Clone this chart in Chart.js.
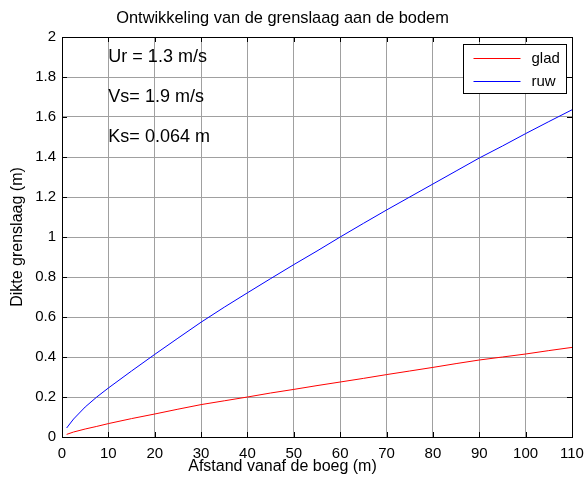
<!DOCTYPE html>
<html>
<head>
<meta charset="utf-8">
<script src="https://cdn.jsdelivr.net/npm/chart.js@4/dist/chart.umd.min.js"></script>
<style>
html,body{margin:0;padding:0;background:#fff;}
canvas{display:block;}
</style>
</head>
<body>
<canvas id="c" width="585" height="487"></canvas>
<script>
// ---- data ----
const distances      = [1, 2.5, 5, 7.5, 10, 15, 20, 25, 30, 35, 40, 45, 50, 55, 60, 65, 70, 75, 80, 85, 90, 95, 100, 105, 110];
const gladThickness  = [0.013, 0.025, 0.040, 0.053, 0.067, 0.092, 0.115, 0.139, 0.162, 0.181, 0.200, 0.220, 0.238, 0.257, 0.275, 0.293, 0.312, 0.330, 0.348, 0.367, 0.385, 0.400, 0.415, 0.432, 0.448];
const ruwThickness   = [0.045, 0.090, 0.150, 0.200, 0.245, 0.330, 0.413, 0.494, 0.574, 0.649, 0.721, 0.792, 0.862, 0.930, 1.000, 1.068, 1.135, 1.200, 1.265, 1.330, 1.395, 1.455, 1.517, 1.577, 1.636];
const seriesLabels   = ["glad", "ruw"];
const xTickValues    = [0, 10, 20, 30, 40, 50, 60, 70, 80, 90, 100, 110];
const xTickLabels    = ["0", "10", "20", "30", "40", "50", "60", "70", "80", "90", "100", "110"];
const yTickValues    = [0, 0.2, 0.4, 0.6, 0.8, 1, 1.2, 1.4, 1.6, 1.8, 2];
const yTickLabels    = ["0", "0.2", "0.4", "0.6", "0.8", "1", "1.2", "1.4", "1.6", "1.8", "2"];
const annotationText = ["Ur = 1.3 m/s", "Vs= 1.9 m/s", "Ks= 0.064 m"];
const annotationX    = 10;
const annotationY    = [1.9, 1.7, 1.5];
const titleText      = "Ontwikkeling van de grenslaag aan de bodem";
const xTitle         = "Afstand vanaf de boeg (m)";
const yTitle         = "Dikte grenslaag (m)";

const FONT = "'Liberation Sans', Arial, sans-serif";
const colors = ["#ff0000", "#0000ff"];

const boxPlugin = {
  id: 'matlabBox',
  afterDatasetsDraw(chart) {
    const {ctx, chartArea: a, scales: {x, y}} = chart;
    ctx.save();
    // titles (centred like the reference figure)
    const cx = chart.width / 2 - 10;
    ctx.fillStyle = '#000';
    ctx.textAlign = 'center';
    ctx.textBaseline = 'middle';
    ctx.font = "16.4px " + FONT;
    ctx.fillText(titleText, cx, a.top - 19);
    ctx.font = "16px " + FONT;
    ctx.fillText(xTitle, cx, a.bottom + 30);
    // annotations
    ctx.font = "18px " + FONT;
    ctx.textAlign = 'left';
    annotationText.forEach((t, i) => {
      ctx.fillText(t, x.getPixelForValue(annotationX), y.getPixelForValue(annotationY[i]));
    });
    // axes box
    ctx.strokeStyle = '#000';
    ctx.lineWidth = 1;
    ctx.strokeRect(Math.round(a.left) + 0.5, Math.round(a.top) + 0.5, Math.round(a.right - a.left), Math.round(a.bottom - a.top));
    // inward ticks
    const tl = 5;
    ctx.beginPath();
    xTickValues.forEach(v => {
      const px = Math.round(x.getPixelForValue(v)) + 0.5;
      ctx.moveTo(px, a.bottom); ctx.lineTo(px, a.bottom - tl);
      ctx.moveTo(px, a.top); ctx.lineTo(px, a.top + tl);
    });
    yTickValues.forEach(v => {
      const py = Math.round(y.getPixelForValue(v)) + 0.5;
      ctx.moveTo(a.left, py); ctx.lineTo(a.left + tl, py);
      ctx.moveTo(a.right, py); ctx.lineTo(a.right - tl, py);
    });
    ctx.stroke();
    // legend
    const bw = 103, bh = 49;
    const bx = Math.round(a.right - 109) + 0.5, by = Math.round(a.top + 7) + 0.5;
    ctx.fillStyle = '#fff';
    ctx.fillRect(bx, by, bw, bh);
    ctx.strokeStyle = '#000';
    ctx.strokeRect(bx, by, bw, bh);
    ctx.font = "15px " + FONT;
    ctx.textBaseline = 'middle';
    seriesLabels.forEach((lab, i) => {
      const ly = Math.round(by + 13 + i * 23) + 0.5;
      ctx.strokeStyle = colors[i];
      ctx.beginPath();
      ctx.moveTo(bx + 10, ly); ctx.lineTo(bx + 57, ly);
      ctx.stroke();
      ctx.fillStyle = '#000';
      ctx.fillText(lab, bx + 68, ly);
    });
    ctx.restore();
  }
};

new Chart(document.getElementById('c'), {
  type: 'line',
  data: {
    datasets: [
      { label: seriesLabels[0], data: distances.map((d, i) => ({x: d, y: gladThickness[i]})),
        borderColor: colors[0], borderWidth: 1, pointRadius: 0, tension: 0, fill: false },
      { label: seriesLabels[1], data: distances.map((d, i) => ({x: d, y: ruwThickness[i]})),
        borderColor: colors[1], borderWidth: 1, pointRadius: 0, tension: 0, fill: false }
    ]
  },
  options: {
    responsive: false,
    animation: false,
    devicePixelRatio: 1,
    layout: { padding: { left: 0, right: 13, top: 37, bottom: 0 } },
    plugins: {
      legend: { display: false },
      tooltip: { enabled: false },
      title: { display: false }
    },
    scales: {
      x: {
        type: 'linear', min: 0, max: 110,
        afterBuildTicks: s => { s.ticks = xTickValues.map(v => ({value: v})); },
        afterFit: s => { s.height = 50; s.paddingLeft = 0; s.paddingRight = 0; },
        grid: { color: '#a0a0a0', drawTicks: false },
        border: { display: true, color: '#000' },
        ticks: { color: '#000', font: { family: FONT, size: 15 }, padding: 8, maxRotation: 0, autoSkip: false,
                 callback: (v, i) => xTickLabels[i] },
        title: { display: false }
      },
      y: {
        type: 'linear', min: 0, max: 2,
        afterBuildTicks: s => { s.ticks = yTickValues.map(v => ({value: v})); },
        afterFit: s => { s.width = 62; s.paddingTop = 0; s.paddingBottom = 0; },
        grid: { color: '#a0a0a0', drawTicks: false },
        border: { display: true, color: '#000' },
        ticks: { color: '#000', font: { family: FONT, size: 15 }, padding: 6, autoSkip: false,
                 callback: (v, i) => yTickLabels[i] },
        title: { display: true, text: yTitle, color: '#000', font: { family: FONT, size: 16 }, padding: { top: 8, bottom: 0 } }
      }
    }
  },
  plugins: [boxPlugin]
});
</script>
</body>
</html>
